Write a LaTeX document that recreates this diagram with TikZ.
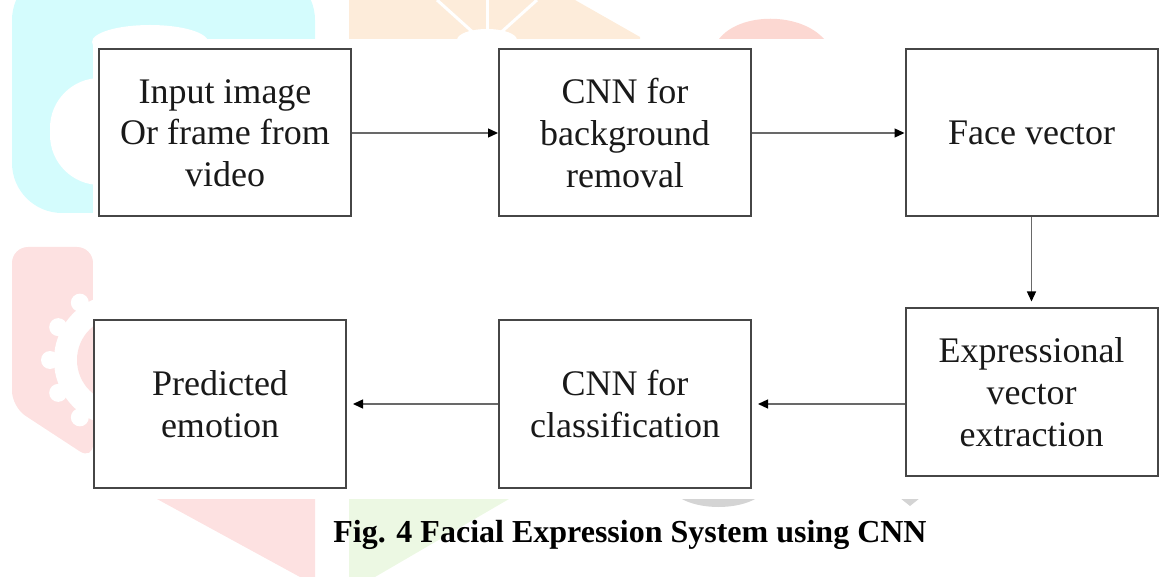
\documentclass[tikz,border=0pt]{standalone}
\usepackage{fontspec}
\setmainfont{Liberation Serif}
\usetikzlibrary{arrows.meta}

\definecolor{wmcyan}{RGB}{212,252,253}
\definecolor{wmorange}{RGB}{253,236,218}
\definecolor{wmpink}{RGB}{253,225,225}
\definecolor{wmrose}{RGB}{252,216,210}
\definecolor{wmgreen}{RGB}{236,248,227}
\definecolor{wmgrey}{RGB}{212,212,212}
\definecolor{boxline}{RGB}{70,70,70}
\definecolor{arrowline}{RGB}{105,105,105}
\definecolor{ink}{RGB}{25,25,25}

\tikzset{
  stage/.style={draw=boxline, line width=1pt, fill=white, text=ink,
    minimum width=126pt, minimum height=83.5pt, inner sep=0pt,
    align=center, font=\fontsize{18}{20.85}\selectfont},
  flow/.style={draw=arrowline, line width=0.65pt,
    -{Triangle[length=5pt,width=4.5pt,color=black]}}
}

\begin{document}
\begin{tikzpicture}[x=0.5pt, y=-0.5pt]
    \useasboundingbox (0,0) rectangle (1173,577);

    % faint watermark behind the figure
    \fill[wmcyan, rounded corners=25] (12,-30) rectangle (315,213);
    \fill[white, rounded corners=25] (50,78) rectangle (160,185);
    \fill[white] (150,42) ellipse (58 and 17);
    \fill[wmorange] (349,0) -- (575,0) -- (640,37) -- (640,39) -- (349,39) -- cycle;
    \foreach \x in {437, 487, 537} {
      \draw[white, line width=1.5pt] (487,45) -- (\x,0);
    }
    \fill[white] (487,40) ellipse (30 and 11);
    \fill[wmrose] (719,39) .. controls (740,12) and (800,12) .. (824,39) -- cycle;
    \fill[wmpink, rounded corners=8] (12,407) -- (12,247) -- (93,247) -- (93,460) -- cycle;
    \fill[white] (120,360) circle (66);
    \foreach \a in {125, 152, 180, 208, 235} {
      \fill[white] (120,360) ++(\a:70) circle (9);
    }
    \fill[wmpink] (120,360) circle (43);
    \fill[wmpink] (157,499) -- (315,499) -- (315,577) -- (300,577) -- cycle;
    \fill[wmgreen] (349,499) -- (509,499) -- (375,577) -- (349,577) -- cycle;
    \fill[wmgrey] (680,498) .. controls (700,510) and (737,510) .. (757,498) -- cycle;
    \fill[wmgrey] (900,498) -- (920,498) -- (910,506) -- cycle;
    \fill[white] (93,39) rectangle (1165,499);

    \node[stage] (input) at (225,133) {Input image\\Or frame from\\video};
    \node[stage] (bgcnn) at (625,133) {CNN for\\background\\removal};
    \node[stage] (face) at (1031.5,133) {Face vector};
    \node[stage] (expr) at (1031.5,392) {Expressional\\vector\\extraction};
    \node[stage] (clscnn) at (625,404) {CNN for\\classification};
    \node[stage] (emotion) at (220,404) {Predicted\\emotion};

    \draw[flow] (input) -- (bgcnn);
    \draw[flow] (bgcnn) -- (face);
    \draw[flow, shorten >=3pt] (face) -- (expr);
    \draw[flow, shorten >=3pt] (expr.west |- clscnn.east) -- (clscnn.east);
    \draw[flow, shorten >=3pt] (clscnn) -- (emotion);

    \node[font=\fontsize{16}{19}\selectfont\bfseries] (caption) at (630,535)
      {Fig. 4 Facial Expression System using CNN};
\end{tikzpicture}
\end{document}
